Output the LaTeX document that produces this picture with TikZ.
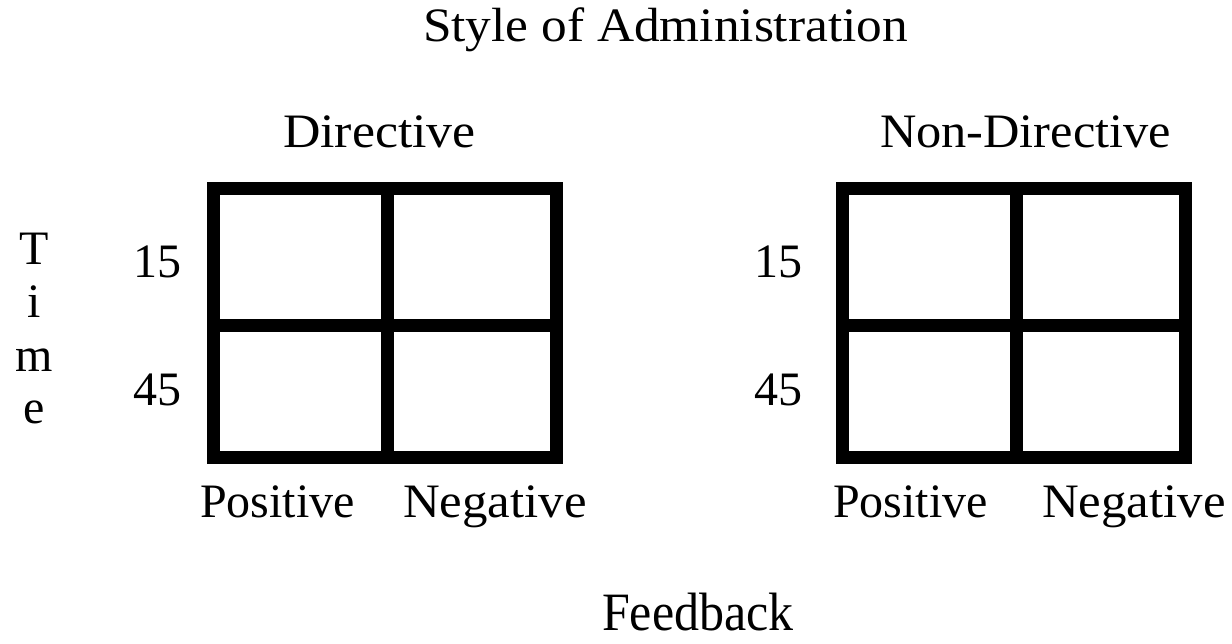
\documentclass[tikz,border=0pt]{standalone}
\usepackage{fontspec}
\setmainfont{Liberation Serif}
\begin{document}
\begin{tikzpicture}[x=1pt,y=-1pt,
  lbl/.style={inner sep=0pt,outer sep=0pt,font=\fontsize{48}{56}\selectfont},
  gridline/.style={line width=13pt,black,line join=miter,line cap=rect}]
\useasboundingbox (0,0) rectangle (1232,644);
% titles
\node[lbl,anchor=base west,xscale=1.07] (title) at (423,42) {Style of Administration};
\node[lbl,anchor=base west,xscale=1.08] (dir) at (283,148) {Directive};
\node[lbl,anchor=base west,xscale=1.05] (ndir) at (880,148) {Non-Directive};
% grid 1
\coordinate (g1a) at (213,188.5);
\coordinate (g1b) at (556,457.5);
\draw[gridline] (g1a) rectangle (g1b);
\coordinate (g1t) at (387,188.5);
\coordinate (g1u) at (387,457.5);
\coordinate (g1l) at (213,326);
\coordinate (g1r) at (556,326);
\draw[gridline,line cap=butt] (g1t) -- (g1u);
\draw[gridline,line cap=butt] (g1l) -- (g1r);
% grid 2
\coordinate (g2a) at (842,188.5);
\coordinate (g2b) at (1185,457.5);
\draw[gridline] (g2a) rectangle (g2b);
\coordinate (g2t) at (1016,188.5);
\coordinate (g2u) at (1016,457.5);
\coordinate (g2l) at (842,326);
\coordinate (g2r) at (1185,326);
\draw[gridline,line cap=butt] (g2t) -- (g2u);
\draw[gridline,line cap=butt] (g2l) -- (g2r);
% row labels
\node[lbl,anchor=base west] (r1a) at (133,278) {15};
\node[lbl,anchor=base west] (r1b) at (133,405) {45};
\node[lbl,anchor=base west] (r2a) at (754,278) {15};
\node[lbl,anchor=base west] (r2b) at (754,405) {45};
% Time
\node[lbl,anchor=base] (tT) at (34,265) {T};
\node[lbl,anchor=base] (ti) at (34,318) {i};
\node[lbl,anchor=base] (tm) at (34,372) {m};
\node[lbl,anchor=base] (te) at (34,423) {e};
% column labels
\node[lbl,anchor=base west] (p1) at (200,517) {Positive};
\node[lbl,anchor=base west,xscale=1.06] (n1) at (403,517) {Negative};
\node[lbl,anchor=base west] (p2) at (833,517) {Positive};
\node[lbl,anchor=base west,xscale=1.06] (n2) at (1042,517) {Negative};
% Feedback
\node[lbl,anchor=base west,text depth=0pt,font=\fontsize{50}{58}\selectfont,yscale=1.08] (fb) at (602,630) {Feedback};
\end{tikzpicture}
\end{document}
